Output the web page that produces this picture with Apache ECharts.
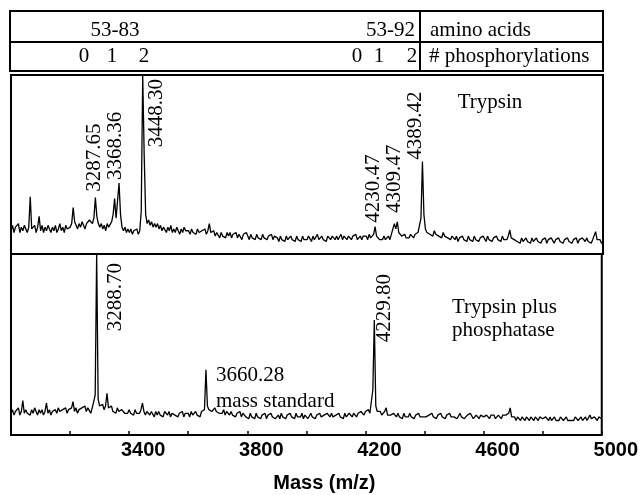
<!DOCTYPE html>
<html>
<head>
<meta charset="utf-8">
<script src="https://cdn.jsdelivr.net/npm/echarts@6.0.0/dist/echarts.min.js"></script>
<style>
  html, body { margin: 0; padding: 0; background: #fff; }
  #main { width: 641px; height: 495px; }
</style>
</head>
<body>
<div id="main"></div>
<script>
// header table
var aminoRanges = ['53-83', '53-92'];
var phosCounts = ['0', '1', '2'];
var headerNames = ['amino acids', '# phosphorylations'];

// spectra sampled every 5 mass units from 3000 to 5000 (relative intensity)
var massStart = 3000, massStep = 5;

// Trypsin
var trypsinIntensity = [
  13,16,12,15,14,17,12,15,13,16, 14,12,15,32,14,13,16,12,15,21,   // 3000
  13,16,12,15,13,16,14,12,15,13, 16,12,14,17,13,15,12,16,14,15,   // 3100
  15,17,26,18,16,14,17,15,18,16, 14,17,16,19,18,17,20,31.5,21,17, // 3200
  15,17,14,16,13,17,15,16,18,22, 31,20,21,39.7,22,15,13,15,12,14, // 3300
  12,14,11,13,12,14,11,13,24,100, 55,22,17,19,16,18,15,17,15,17,  // 3400
  14,16,13,15,14,12,15,13,16,12, 14,12,15,13,11,14,12,15,13,12,   // 3500
  13,11,14,12,13,11,14,12,11,13, 12,14,11,13,17,12,11,13,10,12,   // 3600
  11,9,12,10,11,9,12,10,12,9, 11,10,12,9,11,10,8,11,10,12,        // 3700
  10,8,11,9,10,8,11,9,10,8, 11,9,10,8,10,9,11,8,10,9,             // 3800
  9,7,10,8,9,7,10,8,9,10, 8,9,7,10,8,9,7,10,8,9,                  // 3900
  8,10,9,7,10,8,9,11,8,9, 10,8,9,7,10,9,8,10,9,8,                 // 4000
  10,8,9,11,8,10,9,8,10,9, 8,10,9,11,8,9,10,8,10,9,               // 4100
  10,8,11,9,10,11,15.3,10,9,8, 9,8,10,8,9,10,8,11,12,17,          // 4200
  14,18,12,11,10,9,11,9,10,9, 11,10,9,11,10,12,11,20,51.6,22,     // 4300
  14,12,13,11,12,10,13,11,12,10, 11,9,12,10,11,9,10,8,10,9,       // 4400
  8,10,7,9,8,10,8,9,7,10, 8,9,7,10,8,9,7,9,8,10,                  // 4500
  9,7,10,8,9,7,9,8,10,8, 9,7,10,8,9,8,10,13.4,9,8,                // 4600
  8,9,7,8,6,9,7,8,9,7, 8,6,9,7,8,9,7,8,6,8,                       // 4700
  7,9,6,8,7,9,8,6,8,7, 9,7,8,6,8,7,9,7,8,6,                       // 4800
  8,7,9,6,8,7,9,8,7,9, 7,8,6,8,9,12.5,8,7,8,6,                    // 4900
  7                                                               // 5000
];

// Trypsin plus phosphatase
var phosphataseIntensity = [
  12,14,11,13,12,15,11,13,19,12, 14,12,13,11,14,12,15,13,11,14,   // 3000
  12,14,11,13,17.6,12,14,11,13,12, 14,12,15,13,12,14,13,15,12,14, // 3100
  13,15,18.4,13,15,12,14,13,15,14, 16,13,15,14,12,15,14,22,100,20,// 3200
  16,15,17,14,16,23,15,14,16,13, 14,12,15,13,12,14,15,12,13,12,   // 3300
  14,12,13,11,14,12,13,12,14,17.6, 13,11,13,12,11,13,12,10,13,11, // 3400
  13,11,12,10,13,12,11,13,10,12, 13,11,12,10,12,11,13,10,12,11,   // 3500
  12,10,13,11,12,13,11,12,10,13, 12,14,36,16,14,15,13,14,15,13,   // 3600
  14,12,13,12,14,11,13,12,11,13, 11,12,10,12,11,13,10,12,11,10,   // 3700
  11,9,12,10,11,9,12,10,11,9, 11,10,12,9,11,10,12,10,11,9,        // 3800
  10,11,9,12,10,11,9,11,10,12, 10,11,9,12,10,11,10,12,9,11,       // 3900
  11,9,10,12,10,11,9,11,10,12, 10,9,11,10,12,11,10,12,10,11,      // 4000
  11,10,12,10,11,9,12,10,11,12, 11,10,12,11,10,12,11,13,12,11,    // 4100
  13,12,14,12,13,25,63.5,16,13,12, 13,11,12,13,15,11,12,11,10,12, // 4200
  11,10,12,10,11,9,12,10,11,10, 12,10,11,9,11,10,12,10,11,10,     // 4300
  11,10,9,11,10,12,10,11,9,11, 10,12,10,11,9,11,10,12,10,11,      // 4400
  10,11,9,10,12,10,11,9,10,11, 10,12,11,9,10,11,10,9,11,10,       // 4500
  10,9,11,10,9,11,10,11,9,10, 11,10,9,11,10,11,10,12,15,10,       // 4600
  9,10,8,10,9,8,10,9,8,10, 9,8,10,9,8,10,9,8,10,9,                // 4700
  9,8,10,9,8,10,8,9,10,8, 9,8,10,9,8,9,10,8,9,8,                  // 4800
  9,8,10,9,8,9,10,8,9,10, 8,9,11,9,8,10,9,8,10,9,                 // 4900
  9                                                               // 5000
];

// labelled peaks [mass, height]
var trypsinPeaks = [[3287.65, 31.5], [3368.36, 39.7], [3448.30, 100], [4230.47, 15.3], [4309.47, 18], [4389.42, 51.6]];
var phosphatasePeaks = [[3288.70, 100], [4229.80, 63.5]];
var standardPeak = [3660.28, 36];

function toPairs(arr) {
  return arr.map(function (v, i) { return [massStart + i * massStep, v]; });
}

var serif = "'Liberation Serif', 'DejaVu Serif', serif";
var sans = "'Liberation Sans', Arial, sans-serif";

var myChart = echarts.init(document.getElementById('main'));

var option = {
  backgroundColor: '#fff',
  animation: false,
  grid: [
    { left: 11, top: 75, width: 592, height: 179, show: true, borderColor: '#000', borderWidth: 2 },
    { left: 11, top: 254, width: 592, height: 181, show: true, borderColor: '#000', borderWidth: 2 }
  ],
  xAxis: [
    { gridIndex: 0, type: 'value', min: 3000, max: 5000, show: false },
    {
      gridIndex: 1, type: 'value', min: 3000, max: 5000, interval: 200,
      axisLine: { show: false },
      splitLine: { show: false },
      axisTick: { inside: true, length: 4, lineStyle: { color: '#000', width: 1.5 } },
      axisLabel: {
        margin: 5,
        showMinLabel: false,
        // labels only every 400 (3400, 3800 ...)
        formatter: function (v) { return v % 400 === 200 ? '{v|' + v + '}' : ''; },
        rich: { v: { fontFamily: sans, fontWeight: 'bold', fontSize: 20, color: '#000', padding: [0, 0, 0, 28] } }
      },
      name: 'Mass (m/z)',
      nameLocation: 'middle',
      nameGap: 38,
      nameTextStyle: { fontFamily: sans, fontWeight: 'bold', fontSize: 20, color: '#000', padding: [0, 0, 0, 36] }
    }
  ],
  yAxis: [
    { gridIndex: 0, type: 'value', min: 0, max: 100, show: false },
    { gridIndex: 1, type: 'value', min: 0, max: 100, show: false }
  ],
  series: [
    { name: 'Trypsin', type: 'line', xAxisIndex: 0, yAxisIndex: 0, data: toPairs(trypsinIntensity),
      showSymbol: false, lineStyle: { color: '#000', width: 1.3 } },
    { name: 'Trypsin plus phosphatase', type: 'line', xAxisIndex: 1, yAxisIndex: 1, data: toPairs(phosphataseIntensity),
      showSymbol: false, lineStyle: { color: '#000', width: 1.3 } }
  ]
};
myChart.setOption(option);

// header table + panel captions
var graphics = [
  { type: 'rect', shape: { x: 10, y: 11, width: 593, height: 60 }, style: { fill: 'none', stroke: '#000', lineWidth: 2 } },
  { type: 'line', shape: { x1: 10, y1: 42, x2: 603, y2: 42 }, style: { stroke: '#000', lineWidth: 2 } },
  { type: 'line', shape: { x1: 420, y1: 11, x2: 420, y2: 71 }, style: { stroke: '#000', lineWidth: 2 } }
];
function txt(text, x, y, align) {
  return { type: 'text', x: x, y: y, style: { text: text, fontFamily: serif, fontSize: 21, fill: '#000', align: align, verticalAlign: 'middle' } };
}
graphics.push(txt(aminoRanges[0], 115, 30, 'center'));
graphics.push(txt(aminoRanges[1], 415, 30, 'right'));
graphics.push(txt(headerNames[0], 430, 30, 'left'));
var leftPhosX = [84, 112, 144], rightPhosX = [357, 379, 412];
phosCounts.forEach(function (c, i) {
  graphics.push(txt(c, leftPhosX[i], 56, 'center'));
  graphics.push(txt(c, rightPhosX[i], 56, 'center'));
});
graphics.push(txt(headerNames[1], 429, 56, 'left'));
graphics.push(txt('Trypsin', 490, 102, 'center'));
graphics.push(txt('Trypsin plus', 452, 307, 'left'));
graphics.push(txt('phosphatase', 452, 330, 'left'));

// rotated peak labels, placed from the axes' own scales
var topShift = [[-2, -40], [-5, -37], [13, 38], [-2, -38], [-4, -43], [-7, -36]];
var bottomShift = [[19, 43], [10, -12]];
function peakLabel(gridIndex, p, shift) {
  var px = myChart.convertToPixel({ gridIndex: gridIndex }, p);
  return { type: 'text', x: px[0] + shift[0], y: px[1] + shift[1], rotation: Math.PI / 2,
    style: { text: p[0].toFixed(2), fontFamily: serif, fontSize: 21, fill: '#000', align: 'center', verticalAlign: 'middle' } };
}
trypsinPeaks.forEach(function (p, i) { graphics.push(peakLabel(0, p, topShift[i])); });
phosphatasePeaks.forEach(function (p, i) { graphics.push(peakLabel(1, p, bottomShift[i])); });
var sp = myChart.convertToPixel({ gridIndex: 1 }, standardPeak);
graphics.push(txt(standardPeak[0].toFixed(2), sp[0] + 10, sp[1] + 6, 'left'));
graphics.push(txt('mass standard', sp[0] + 10, sp[1] + 32, 'left'));

myChart.setOption({ graphic: graphics });
</script>
</body>
</html>
